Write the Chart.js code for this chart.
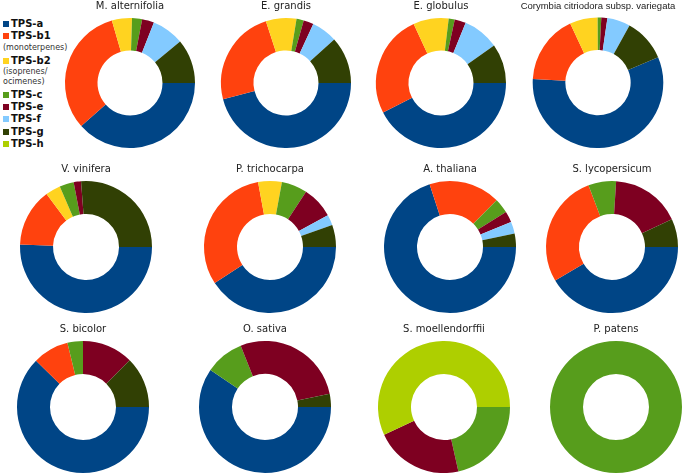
<!DOCTYPE html>
<html>
<head>
<meta charset="utf-8">
<script src="https://cdn.jsdelivr.net/npm/chart.js@4.4.0/dist/chart.umd.min.js"></script>
<style>
    body { margin: 0; background: #fff; }
    #page { position: relative; width: 685px; height: 475px; overflow: hidden; }
    .pie { position: absolute; }
    #legend { position: absolute; left: 3px; top: 18px; font-family: "DejaVu Sans", sans-serif; color: #111; }
    #legend .item { font-weight: bold; font-size: 10px; line-height: 12.3px; white-space: nowrap; }
    #legend .item.gap { margin-top: 2px; }
    #legend .sw { display: inline-block; width: 6px; height: 6px; margin-right: 2px; vertical-align: 0px; }
    #legend .note { font-size: 8px; line-height: 10px; color: #333; }
</style>
</head>
<body>
<div id="page">
    <div id="legend"></div>
</div>
<script>
// TPS subfamilies (categories)
const tpsLabels = ['TPS-a', 'TPS-b1', 'TPS-b2', 'TPS-c', 'TPS-e', 'TPS-f', 'TPS-g', 'TPS-h'];
const tpsNotes = ['', '(monoterpenes)', '(isoprenes/|ocimenes)', '', '', '', '', ''];
const tpsColors = ['#004586', '#ff420e', '#ffd320', '#579d1c', '#7e0021', '#83caff', '#314004', '#aecf00'];

const species = [
    'M. alternifolia', 'E. grandis', 'E. globulus', 'Corymbia citriodora subsp. variegata',
    'V. vinifera', 'P. trichocarpa', 'A. thaliana', 'S. lycopersicum',
    'S. bicolor', 'O. sativa', 'S. moellendorffii', 'P. patens'
];

// share (%) of each TPS subfamily, order as tpsLabels
const shares = [
    [38.5, 32, 5, 2.5, 3, 8, 11, 0],
    [46, 24, 7.6, 1.8, 2.5, 6.4, 11.7, 0],
    [42.5, 25.6, 8.8, 1.5, 2.8, 9, 9.8, 0],
    [57.3, 17.1, 6.9, 0.9, 1.5, 5.7, 10.6, 0],
    [50.6, 14.2, 3.7, 3.5, 1.8, 0, 26.2, 0],
    [40.8, 31.3, 5.8, 6.3, 7.8, 2.6, 5.4, 0],
    [70, 17.5, 0, 3.6, 2.7, 2.9, 3.3, 0],
    [41.5, 27.7, 0, 6.8, 17.1, 0, 6.9, 0],
    [62.4, 8.8, 0, 3.8, 12.5, 0, 12.5, 0],
    [59.5, 0, 0, 9.5, 27.8, 0, 3.2, 0],
    [0, 0, 0, 21.5, 21.6, 0, 0, 56.9],
    [0, 0, 0, 100, 0, 0, 0, 0]
];

// start angle of first slice (chart.js degrees, 90 = 3 o'clock)
const startAngles = [90, 90, 90, 67, 90, 90, 90, 90, 90, 90, 90, 90];

// layout: ring centre x/y and radius per panel
const centersX = [130, 286, 441, 598, 86, 270, 450, 612, 83, 265, 444, 616];
const rowY = [83, 247, 407];
const rowR = [65, 66, 66];

function buildLegend() {
    const el = document.getElementById('legend');
    let html = '';
    let prevNote = false;
    tpsLabels.forEach(function (lab, i) {
        html += '<div class="item' + (prevNote ? ' gap' : '') + '"><span class="sw" style="background:' + tpsColors[i] + '"></span>' + lab + '</div>';
        prevNote = false;
        if (tpsNotes[i]) {
            tpsNotes[i].split('|').forEach(function (n) {
                html += '<div class="note">' + n + '</div>';
            });
            prevNote = true;
        }
    });
    el.innerHTML = html;
}

function drawPie(i) {
    const row = Math.floor(i / 4);
    const r = rowR[row];
    const w = 170;
    const titleH = 19;
    const h = titleH + 2 * r;

    const box = document.createElement('div');
    box.className = 'pie';
    box.style.left = (centersX[i] - w / 2) + 'px';
    box.style.top = (rowY[row] - r - titleH) + 'px';
    const canvas = document.createElement('canvas');
    canvas.width = w;
    canvas.height = h;
    box.appendChild(canvas);
    document.getElementById('page').appendChild(box);

    const longTitle = species[i].length > 20;

    new Chart(canvas.getContext('2d'), {
        type: 'doughnut',
        data: {
            labels: tpsLabels,
            datasets: [{
                data: shares[i],
                backgroundColor: tpsColors,
                borderWidth: 0
            }]
        },
        options: {
            responsive: false,
            animation: false,
            cutout: '50%',
            rotation: startAngles[i],
            layout: { padding: 0 },
            plugins: {
                legend: { display: false },
                tooltip: { enabled: false },
                title: {
                    display: true,
                    text: species[i],
                    color: '#222',
                    font: {
                        family: longTitle ? 'Liberation Sans' : 'DejaVu Sans',
                        size: longTitle ? 9.5 : 10,
                        weight: 'normal',
                        lineHeight: 1.2
                    },
                    padding: { top: 1.5, bottom: titleH - 13.5 }
                }
            }
        }
    });
}

buildLegend();
species.forEach(function (s, i) { drawPie(i); });
</script>
</body>
</html>
